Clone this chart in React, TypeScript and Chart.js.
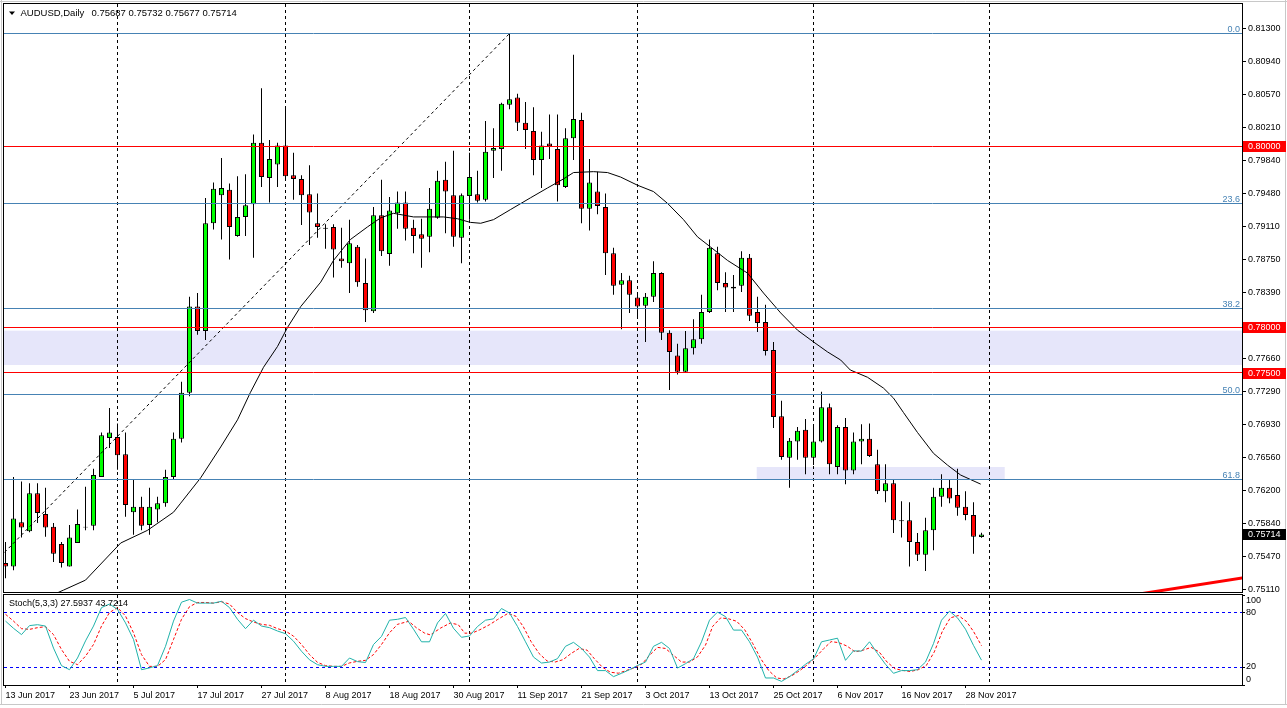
import React, { useEffect, useRef } from "react";
import { Chart, registerables } from "chart.js";

Chart.register(...registerables);

const FONT = "'Liberation Sans', Arial, sans-serif";

// ---------------- data ----------------
const chartTitle = "AUDUSD,Daily";
const lastBarText = "0.75687 0.75732 0.75677 0.75714";
const stochTitle = "Stoch(5,3,3) 27.5937 43.7214";

const xLabelBars = [0, 8, 16, 24, 32, 40, 48, 56, 64, 72, 80, 88, 96, 104, 112, 120];
const xLabelTexts = [
  "13 Jun 2017", "23 Jun 2017", "5 Jul 2017", "17 Jul 2017", "27 Jul 2017", "8 Aug 2017",
  "18 Aug 2017", "30 Aug 2017", "11 Sep 2017", "21 Sep 2017", "3 Oct 2017", "13 Oct 2017",
  "25 Oct 2017", "6 Nov 2017", "16 Nov 2017", "28 Nov 2017",
];
const monthGridBars = [14, 35, 58, 79, 101, 123];

const opens = [
  0.7540, 0.7536, 0.7585, 0.7575, 0.7617, 0.7594, 0.7580, 0.7561, 0.7536, 0.7562,
  0.7580, 0.7581, 0.7635, 0.7678, 0.7679, 0.7660, 0.7596, 0.7602, 0.7582, 0.7599,
  0.7606, 0.7635, 0.7677, 0.7728, 0.7823, 0.7796, 0.7915, 0.7946, 0.7952, 0.7901,
  0.7922, 0.7936, 0.8004, 0.7965, 0.7980, 0.8001, 0.7968, 0.7964, 0.7947, 0.7915,
  0.7910, 0.7911, 0.7876, 0.7871, 0.7889, 0.7849, 0.7818, 0.7924, 0.7881, 0.7926,
  0.7938, 0.7910, 0.7903, 0.7900, 0.7921, 0.7963, 0.7946, 0.7899, 0.7945, 0.7947,
  0.7941, 0.7995, 0.7997, 0.8046, 0.8054, 0.8026, 0.8017, 0.7985, 0.8003, 0.7997,
  0.7955, 0.8009, 0.8029, 0.7931, 0.7950, 0.7933, 0.7882, 0.7847, 0.7852, 0.7833,
  0.7824, 0.7834, 0.7860, 0.7794, 0.7769, 0.7751, 0.7777, 0.7787, 0.7817, 0.7882,
  0.7849, 0.7843, 0.7846, 0.7877, 0.7817, 0.7806, 0.7775, 0.7702, 0.7656, 0.7674,
  0.7687, 0.7656, 0.7674, 0.7712, 0.7646, 0.7690, 0.7642, 0.7674, 0.7677, 0.7649,
  0.7619, 0.7628, 0.7587, 0.7587, 0.7563, 0.7549, 0.7576, 0.7613, 0.7623, 0.7615,
  0.7602, 0.7593, 0.75687,
];
const highs = [
  0.7563, 0.7635, 0.7630, 0.7628, 0.7628, 0.7623, 0.7584, 0.7563, 0.7582, 0.7599,
  0.7624, 0.7644, 0.7684, 0.7711, 0.7694, 0.7684, 0.7632, 0.7613, 0.7623, 0.7613,
  0.7643, 0.7684, 0.7740, 0.7834, 0.7838, 0.7943, 0.7960, 0.7987, 0.7959, 0.7967,
  0.7969, 0.8013, 0.8064, 0.8007, 0.8004, 0.8043, 0.7993, 0.7968, 0.7979, 0.7948,
  0.7914, 0.7914, 0.7910, 0.7919, 0.7891, 0.7876, 0.7933, 0.7963, 0.7944, 0.7950,
  0.7950, 0.7919, 0.7920, 0.7954, 0.7973, 0.7983, 0.7995, 0.7948, 0.7993, 0.7973,
  0.8028, 0.8020, 0.8048, 0.81245, 0.8058, 0.8049, 0.8043, 0.8016, 0.8035, 0.8035,
  0.8020, 0.8101, 0.8037, 0.7986, 0.7972, 0.7948, 0.7888, 0.7860, 0.7857, 0.7836,
  0.7838, 0.7873, 0.7861, 0.7797, 0.7782, 0.7796, 0.7809, 0.7836, 0.7897, 0.7889,
  0.7861, 0.7858, 0.7884, 0.7881, 0.7834, 0.7825, 0.7784, 0.7719, 0.7678, 0.7690,
  0.7699, 0.7692, 0.7729, 0.7716, 0.7692, 0.7700, 0.7684, 0.7693, 0.7694, 0.7665,
  0.7649, 0.7632, 0.7608, 0.7607, 0.7573, 0.7590, 0.7623, 0.7638, 0.7632, 0.7644,
  0.7619, 0.7607, 0.75732,
];
const lows = [
  0.7523, 0.7532, 0.7568, 0.7574, 0.7584, 0.7569, 0.7541, 0.7535, 0.7536, 0.7562,
  0.7576, 0.7576, 0.7635, 0.7667, 0.7643, 0.7591, 0.7571, 0.7576, 0.7571, 0.7585,
  0.7602, 0.7632, 0.7673, 0.7724, 0.7792, 0.7786, 0.7908, 0.7897, 0.7875, 0.7900,
  0.7901, 0.7877, 0.7955, 0.7938, 0.7955, 0.7965, 0.7941, 0.7913, 0.7891, 0.7899,
  0.7887, 0.7855, 0.7866, 0.7838, 0.7845, 0.7806, 0.7816, 0.7879, 0.7868, 0.7909,
  0.7896, 0.7882, 0.7866, 0.7883, 0.7920, 0.7904, 0.7889, 0.7871, 0.7919, 0.7938,
  0.7939, 0.7965, 0.7973, 0.8041, 0.8017, 0.7997, 0.7968, 0.7954, 0.7986, 0.7939,
  0.7954, 0.7985, 0.7915, 0.7907, 0.7925, 0.7858, 0.7836, 0.7798, 0.7816, 0.7810,
  0.7784, 0.7828, 0.7786, 0.7731, 0.7748, 0.7750, 0.7770, 0.7782, 0.7816, 0.7841,
  0.7817, 0.7817, 0.7839, 0.7807, 0.7795, 0.7769, 0.7689, 0.7654, 0.7623, 0.7654,
  0.7638, 0.7648, 0.7673, 0.7638, 0.7638, 0.7627, 0.7638, 0.7649, 0.7657, 0.7616,
  0.7607, 0.7573, 0.7568, 0.7536, 0.7542, 0.7531, 0.7554, 0.7602, 0.7606, 0.7592,
  0.7587, 0.7550, 0.75677,
];
const closes = [
  0.7536, 0.7589, 0.7579, 0.7617, 0.7595, 0.7579, 0.7550, 0.7540, 0.7568, 0.7583,
  0.7579, 0.7637, 0.7681, 0.7684, 0.7659, 0.7604, 0.7602, 0.7581, 0.7602, 0.7606,
  0.7635, 0.7677, 0.7728, 0.7823, 0.7796, 0.7915, 0.7953, 0.7954, 0.7911, 0.7922,
  0.7935, 0.8004, 0.7966, 0.7986, 0.8001, 0.7967, 0.7964, 0.7946, 0.7927, 0.7911,
  0.7909, 0.7886, 0.7873, 0.7893, 0.7850, 0.7819, 0.7924, 0.7884, 0.7929, 0.7938,
  0.7909, 0.7901, 0.7898, 0.7931, 0.7962, 0.7950, 0.7900, 0.7946, 0.7966, 0.7940,
  0.7994, 0.7998, 0.8047, 0.8052, 0.8026, 0.8018, 0.7985, 0.8001, 0.8000, 0.7957,
  0.8009, 0.8030, 0.7931, 0.7960, 0.7934, 0.7882, 0.7846, 0.7852, 0.7836, 0.7823,
  0.7834, 0.7860, 0.7794, 0.7773, 0.7751, 0.7777, 0.7787, 0.7817, 0.7888, 0.7849,
  0.7844, 0.7845, 0.7877, 0.7813, 0.7805, 0.7774, 0.7701, 0.7657, 0.7675, 0.7686,
  0.7656, 0.7674, 0.7712, 0.7649, 0.7690, 0.7642, 0.7674, 0.7677, 0.7658, 0.7619,
  0.7628, 0.7587, 0.7586, 0.7563, 0.7549, 0.7576, 0.7613, 0.7623, 0.7611, 0.7601,
  0.7593, 0.7569, 0.75714,
];

const maBars = [
  1.9, 7.25, 10, 14.4, 17.75, 21, 21.9, 24.4, 26.9, 29, 30.6, 32.25, 34, 35.25, 36.9,
  39.4, 41, 43.1, 45.25, 46.9, 48.5, 51, 54.75, 56.5, 58.1, 59.4, 61, 63.1, 65.6, 67.75,
  69.75, 71, 73.5, 75.25, 76.9, 79, 81, 82.75, 84.75, 86.5, 88.1, 90.25, 92.75, 94.75,
  96.9, 99, 101, 102.75, 104.4, 105.6, 107.75, 109.75, 111, 112.25, 114, 116, 117.75,
  119.4, 121.9,
];
const maValues = [
  0.7489, 0.7510, 0.7521, 0.7562, 0.7576, 0.7596, 0.7606, 0.7634, 0.7668, 0.7698,
  0.7728, 0.7756, 0.7779, 0.7800, 0.7823, 0.7850, 0.7874, 0.7897, 0.7911, 0.7921,
  0.7926, 0.7922, 0.7922, 0.7920, 0.7916, 0.7915, 0.7919, 0.7930, 0.7943, 0.7954,
  0.7964, 0.7971, 0.7972, 0.7971, 0.7966, 0.7957, 0.7950, 0.7937, 0.7919, 0.7900,
  0.7889, 0.7874, 0.7860, 0.7838, 0.7816, 0.7797, 0.7784, 0.7773, 0.7764, 0.7753,
  0.7745, 0.7733, 0.7722, 0.7706, 0.7684, 0.7661, 0.7648, 0.7637, 0.7627,
];

// Fibonacci retracement (anchors and levels)
const fibAnchorBars = [-24.7, 63];
const fibAnchorPrices = [0.73285, 0.81245];
const fibLevelNames = ["0.0", "23.6", "38.2", "50.0", "61.8"];
const fibLevelPrices = [0.81245, 0.79366, 0.78204, 0.77265, 0.76326];

// horizontal levels and zones
const redLevels = [0.8, 0.78, 0.775];
const zoneStartBars = [-10, 93.9];
const zoneEndBars = [200, 124.9];
const zoneHighs = [0.77964, 0.76459];
const zoneLows = [0.77585, 0.76327];

// red trend line (bottom right)
const trendBars = [140, 156];
const trendPrices = [0.75033, 0.75254];

const lastClose = 0.75714;

const priceTicks = [
  0.813, 0.8094, 0.8057, 0.8021, 0.7984, 0.7948, 0.7911, 0.7875, 0.7839,
  0.7766, 0.7729, 0.7693, 0.7656, 0.762, 0.7584, 0.7547, 0.7511,
];
const X_MIN = -0.1875;
const X_MAX = 154.5625;
const Y_MIN = 0.75079;
const Y_MAX = 0.81571;

const stochK = [
  71, 63, 56, 66, 67, 65.5, 41, 21.5, 17, 30, 49, 65.5, 86, 90, 84, 69, 50.6, 17, 19, 21.5,
  43, 71, 92, 95, 91, 91, 91, 93, 86, 73, 62.6, 72, 65.5, 63.7, 60, 57, 48.7, 37.5, 28, 22.6,
  20.7, 20.7, 20.7, 30, 26, 25, 45, 54, 72, 73,
  75, 62, 48, 48, 69, 79.5, 63, 53, 54.5, 65, 72, 73.5, 85, 80, 65, 48, 31, 24.4, 25.5, 29.3,
  43, 47.4, 40.6, 31, 16, 16, 9.3, 13, 17, 21.7, 25.5, 43, 47.4, 40.6, 18.8, 23.7, 29.3, 48,
  72, 81, 76, 61, 61, 48, 31, 7.8, 7.8, 4, 9.3, 16, 23, 29, 48, 50, 52, 27.4, 38, 37.6, 48,
  35, 23, 13, 16, 16, 17, 25.5, 46, 72, 82, 74.6, 62, 44, 27.6,
];
const stochDBars = [
  0, 1, 2, 3, 4, 5, 6, 7, 8, 9, 10, 11, 12, 13, 14, 15, 16, 17, 18, 19, 20, 21, 22, 23, 24,
  25, 26, 27, 28, 29, 30, 31, 32, 33, 34, 35, 36, 37, 38, 39, 40, 41, 42, 43, 44, 45, 46, 47,
  48, 49,
  50.4, 51.4, 52.4, 53.1, 54.4, 55.6, 56.6, 57.4, 58.3, 59.3, 60.5, 61.5, 62.8, 63.8, 64.7,
  65.7, 66.7, 67.7, 68.7, 69.7, 70.7, 71.7, 72.7, 73.6, 74.6, 75.6, 76.6, 77.6, 78.6, 79.6,
  80.5, 81.5, 82.5, 83.5, 84.5, 85.5, 86.5, 87.5, 88.4, 89.4, 90.4, 91.4, 92.4, 93.4, 94.4,
  95.4, 96.4, 97.3, 98.3, 99.3, 100.3, 101.3, 102.3, 103.2, 104.2, 105.2, 106.2, 107.2,
  108.2, 109.2, 110.2, 111.2, 112.2, 113.1, 114.1, 115.1, 116.1, 117.1, 118.1, 119.1,
  120.1, 121, 122,
];
const stochD = [
  78.6, 71, 62.6, 61.8, 63.7, 64.8, 56, 39.4, 26.3, 22.6, 32, 45, 65.5, 80.5, 86, 76.7, 58,
  33.8, 20.7, 20.7, 28.2, 50.6, 73, 87, 91.7, 91.7, 91, 92.5, 90, 80.5, 73.8, 70, 67.4, 66.3,
  62.6, 60, 54.3, 45, 33.8, 25.2, 21.5, 20.7, 20.7, 24.5, 26.3, 27.4, 33.8, 45, 58, 67.4,
  70.8, 63.3, 57.6, 55.7, 63.3, 68.9, 67, 57.6, 57.6, 61.4, 67, 72.7, 79.5, 76.4, 65.2,
  48.2, 35, 26.7, 25.5, 28.2, 35, 40.6, 38.7, 29.3, 19.9, 14.2, 13.1, 16.1, 19.1, 23.6,
  33, 41.8, 40.6, 33, 25.5, 25.5, 31.2, 44.3, 65.2, 74.6, 73.5, 70.8, 61.4, 46.2, 29.3,
  16.1, 7.8, 6.7, 10.4, 16.1, 23, 31.2, 40.6, 48.2, 47, 43.2, 36.8, 38.7, 41.8, 36.8,
  25.5, 18, 16.1, 15, 17, 21.7, 36.8, 59.5, 74.6, 77.2, 70.8, 59.5, 43.7,
];
const stochLevels = [20, 80];
const stochTicks = [0, 20, 80, 100];

// ---------------- styles ----------------
const BULL = "#00ff00";
const BEAR = "#ff0000";
const FIB_COLOR = "#4682b4";
const ZONE_FILL = "#e6e6fa";
const GRAY = "#c8c8c8";

const font = (px: number) => `${px}px ${FONT}`;
const crisp = (v: number) => Math.floor(v) + 0.5;

const mainDecor = {
  id: "mainDecor",
  beforeDraw(chart: any) {
    const { ctx, chartArea: a, scales } = chart;
    const x = scales.x, y = scales.y;
    ctx.save();
    ctx.beginPath();
    ctx.rect(a.left, a.top, a.right - a.left, a.bottom - a.top);
    ctx.clip();
    ctx.fillStyle = ZONE_FILL;
    for (let i = 0; i < zoneHighs.length; i++) {
      const x1 = x.getPixelForValue(zoneStartBars[i]);
      const x2 = x.getPixelForValue(zoneEndBars[i]);
      const y1 = y.getPixelForValue(zoneHighs[i]);
      const y2 = y.getPixelForValue(zoneLows[i]);
      ctx.fillRect(x1, y1, x2 - x1, y2 - y1);
    }
    ctx.restore();
  },
  afterDatasetsDraw(chart: any) {
    const { ctx, chartArea: a, scales } = chart;
    const y = scales.y;
    ctx.save();
    ctx.lineWidth = 1;
    ctx.strokeStyle = FIB_COLOR;
    ctx.fillStyle = FIB_COLOR;
    ctx.font = font(9);
    ctx.textAlign = "right";
    ctx.textBaseline = "alphabetic";
    fibLevelPrices.forEach((p, i) => {
      const py = crisp(y.getPixelForValue(p));
      ctx.beginPath();
      ctx.moveTo(a.left, py);
      ctx.lineTo(a.right, py);
      ctx.stroke();
      ctx.fillText(fibLevelNames[i], a.right - 2, py - 2);
    });
    ctx.strokeStyle = "#ff0000";
    redLevels.forEach((p) => {
      const py = crisp(y.getPixelForValue(p));
      ctx.beginPath();
      ctx.moveTo(a.left, py);
      ctx.lineTo(a.right, py);
      ctx.stroke();
    });
    ctx.restore();
  },
  afterDraw(chart: any) {
    const { ctx, chartArea: a, scales, width } = chart;
    const y = scales.y;
    ctx.save();
    // window edge
    ctx.strokeStyle = GRAY;
    ctx.lineWidth = 1;
    ctx.beginPath();
    ctx.moveTo(0, 1.5); ctx.lineTo(width, 1.5);
    ctx.moveTo(1.5, 0); ctx.lineTo(1.5, chart.height);
    ctx.moveTo(width - 1.5, 0); ctx.lineTo(width - 1.5, chart.height);
    ctx.stroke();
    // frame
    ctx.strokeStyle = "#000";
    ctx.strokeRect(a.left - 0.5, a.top - 0.5, a.right - a.left + 1, a.bottom - a.top + 1);
    // title
    ctx.fillStyle = "#000";
    ctx.beginPath();
    ctx.moveTo(9, 11.5); ctx.lineTo(15, 11.5); ctx.lineTo(12, 15);
    ctx.closePath();
    ctx.fill();
    ctx.font = font(9.5);
    ctx.textBaseline = "middle";
    ctx.textAlign = "left";
    ctx.fillText(chartTitle, 20.5, 13.5);
    ctx.fillText(lastBarText, 91.5, 13.5);
    // price boxes on the axis
    ctx.font = font(9);
    const boxes = [
      ...redLevels.map((v) => ({ v, bg: "#ff0000" })),
      { v: lastClose, bg: "#000000" },
    ];
    boxes.forEach((b) => {
      const py = Math.round(y.getPixelForValue(b.v));
      ctx.fillStyle = b.bg;
      ctx.fillRect(a.right + 1, py - 5, 43, 11);
      ctx.fillStyle = "#ffffff";
      ctx.fillText(b.v.toFixed(5), a.right + 6, py + 0.5);
    });
    ctx.restore();
  },
};

const stochDecor = {
  id: "stochDecor",
  afterDraw(chart: any) {
    const { ctx, chartArea: a, width, height } = chart;
    ctx.save();
    ctx.strokeStyle = GRAY;
    ctx.lineWidth = 1;
    ctx.beginPath();
    ctx.moveTo(1.5, 0); ctx.lineTo(1.5, height - 3);
    ctx.moveTo(width - 1.5, 0); ctx.lineTo(width - 1.5, height - 3);
    ctx.moveTo(0, height - 3.5); ctx.lineTo(width, height - 3.5);
    ctx.stroke();
    ctx.strokeStyle = "#000";
    ctx.strokeRect(a.left - 0.5, a.top - 0.5, a.right - a.left + 1, a.bottom - a.top + 1);
    ctx.fillStyle = "#000";
    ctx.font = font(9);
    ctx.textBaseline = "middle";
    ctx.textAlign = "left";
    ctx.fillText(stochTitle, 9, 9.5);
    ctx.restore();
  },
};

const zeroPad = (s: any) => {
  s.paddingTop = 0;
  s.paddingBottom = 0;
  s.paddingLeft = 0;
  s.paddingRight = 0;
};

export default function App() {
  const mainRef = useRef<HTMLCanvasElement>(null);
  const stochRef = useRef<HTMLCanvasElement>(null);

  useEffect(() => {
    Chart.defaults.font.family = FONT;
    Chart.defaults.font.size = 9;
    Chart.defaults.color = "#000";

    const idx = opens.map((_, i) => i);
    const wickData = idx.map((i) => ({ x: i, y: [lows[i], highs[i]] }));
    const bodyData = idx.map((i) => ({ x: i, y: [opens[i], closes[i]] }));
    const bodyColors = idx.map((i) => (closes[i] >= opens[i] ? BULL : BEAR));

    const main = new Chart(mainRef.current as HTMLCanvasElement, {
      type: "bar",
      data: {
        datasets: [
          {
            type: "bar",
            data: wickData as any,
            backgroundColor: "#000",
            borderWidth: 0,
            barThickness: 1,
            grouped: false,
            inflateAmount: 0,
            order: 4,
            clip: 0,
          } as any,
          {
            type: "bar",
            data: bodyData as any,
            backgroundColor: bodyColors,
            borderColor: "#000",
            borderWidth: 1,
            borderSkipped: false,
            barThickness: 5,
            grouped: false,
            inflateAmount: 0,
            order: 3,
            clip: 0,
          } as any,
          {
            type: "line",
            data: maBars.map((b, i) => ({ x: b, y: maValues[i] })),
            borderColor: "#000",
            borderWidth: 1,
            pointRadius: 0,
            tension: 0,
            order: 2,
            clip: 0,
          } as any,
          {
            type: "line",
            data: fibAnchorBars.map((b, i) => ({ x: b, y: fibAnchorPrices[i] })),
            borderColor: "#000",
            borderWidth: 1,
            borderDash: [3, 3],
            pointRadius: 0,
            order: 1,
            clip: 0,
          } as any,
          {
            type: "line",
            data: trendBars.map((b, i) => ({ x: b, y: trendPrices[i] })),
            borderColor: "#ff0000",
            borderWidth: 3,
            pointRadius: 0,
            order: 0,
            clip: 0,
          } as any,
        ],
      },
      options: {
        responsive: false,
        animation: false,
        events: [],
        layout: { padding: { left: 4, top: 4, right: 0, bottom: 2 } },
        plugins: { legend: { display: false }, tooltip: { enabled: false } },
        scales: {
          x: {
            type: "linear",
            min: X_MIN,
            max: X_MAX,
            offset: false,
            afterBuildTicks: (s: any) => {
              s.ticks = monthGridBars.map((v) => ({ value: v }));
            },
            afterFit: (s: any) => {
              s.height = 0;
              zeroPad(s);
            },
            ticks: { display: false },
            grid: { color: "#000", lineWidth: 1, drawTicks: false, offset: false },
            border: { display: false, dash: [3, 3] },
          },
          y: {
            type: "linear",
            position: "right",
            min: Y_MIN,
            max: Y_MAX,
            afterBuildTicks: (s: any) => {
              s.ticks = priceTicks.map((v) => ({ value: v }));
            },
            afterFit: (s: any) => {
              s.width = 45;
              zeroPad(s);
            },
            ticks: {
              callback: (v: any) => Number(v).toFixed(5),
              padding: 2,
              color: "#000",
              autoSkip: false,
              font: { size: 9 },
            },
            grid: { drawOnChartArea: false, drawTicks: true, tickLength: 4, color: "#000" },
            border: { display: false },
          },
        } as any,
      },
      plugins: [mainDecor],
    } as any);

    const stoch = new Chart(stochRef.current as HTMLCanvasElement, {
      type: "line",
      data: {
        datasets: [
          {
            data: stochK.map((v, i) => ({ x: i, y: v })),
            borderColor: "#20b2aa",
            borderWidth: 1,
            pointRadius: 0,
            tension: 0,
            clip: 0,
          },
          {
            data: stochDBars.map((b, i) => ({ x: b, y: stochD[i] })),
            borderColor: "#ff0000",
            borderWidth: 1,
            borderDash: [3, 2],
            pointRadius: 0,
            tension: 0,
            clip: 0,
          },
        ],
      },
      options: {
        responsive: false,
        animation: false,
        events: [],
        layout: { padding: { left: 4, top: 1, right: 0, bottom: 0 } },
        plugins: { legend: { display: false }, tooltip: { enabled: false } },
        scales: {
          x: {
            type: "linear",
            position: "bottom",
            min: X_MIN,
            max: X_MAX,
            offset: false,
            afterBuildTicks: (s: any) => {
              s.ticks = xLabelBars.map((v) => ({ value: v }));
            },
            afterFit: (s: any) => {
              s.height = 23;
              zeroPad(s);
            },
            ticks: {
              callback: (_v: any, i: number) => xLabelTexts[i],
              align: "start",
              autoSkip: false,
              maxRotation: 0,
              minRotation: 0,
              padding: 2,
              color: "#000",
            },
            grid: { drawOnChartArea: false, drawTicks: true, tickLength: 3, color: "#000" },
            border: { display: false },
          },
          x2: {
            type: "linear",
            position: "bottom",
            min: X_MIN,
            max: X_MAX,
            offset: false,
            afterBuildTicks: (s: any) => {
              s.ticks = monthGridBars.map((v) => ({ value: v }));
            },
            afterFit: (s: any) => {
              s.height = 0;
              zeroPad(s);
            },
            ticks: { display: false },
            grid: { color: "#000", lineWidth: 1, drawTicks: false, offset: false },
            border: { display: false, dash: [3, 3] },
          },
          y: {
            type: "linear",
            position: "right",
            min: 0,
            max: 100,
            afterBuildTicks: (s: any) => {
              s.ticks = stochTicks.map((v) => ({ value: v }));
            },
            afterFit: (s: any) => {
              s.width = 45;
              zeroPad(s);
            },
            ticks: {
              callback: (v: any) =>
                v === 100 ? ["", "100"] : v === 0 ? ["0", ""] : String(v),
              padding: 1,
              color: "#000",
              autoSkip: false,
            },
            grid: {
              drawOnChartArea: true,
              drawTicks: true,
              tickLength: 3,
              color: (c: any) =>
                c.tick && stochLevels.includes(c.tick.value) ? "#0000ff" : "rgba(0,0,0,0)",
              tickColor: "#000",
            },
            border: { display: false, dash: [3, 3] },
          },
        } as any,
      },
      plugins: [stochDecor],
    } as any);

    return () => {
      main.destroy();
      stoch.destroy();
    };
  }, []);

  return (
    <div
      style={{
        position: "fixed",
        left: 0,
        top: 0,
        width: 1287,
        height: 708,
        background: "#ffffff",
        overflow: "hidden",
      }}
    >
      <canvas
        ref={mainRef}
        width={1287}
        height={594}
        style={{ position: "absolute", left: 0, top: 0 }}
      />
      <canvas
        ref={stochRef}
        width={1287}
        height={114}
        style={{ position: "absolute", left: 0, top: 594 }}
      />
    </div>
  );
}
